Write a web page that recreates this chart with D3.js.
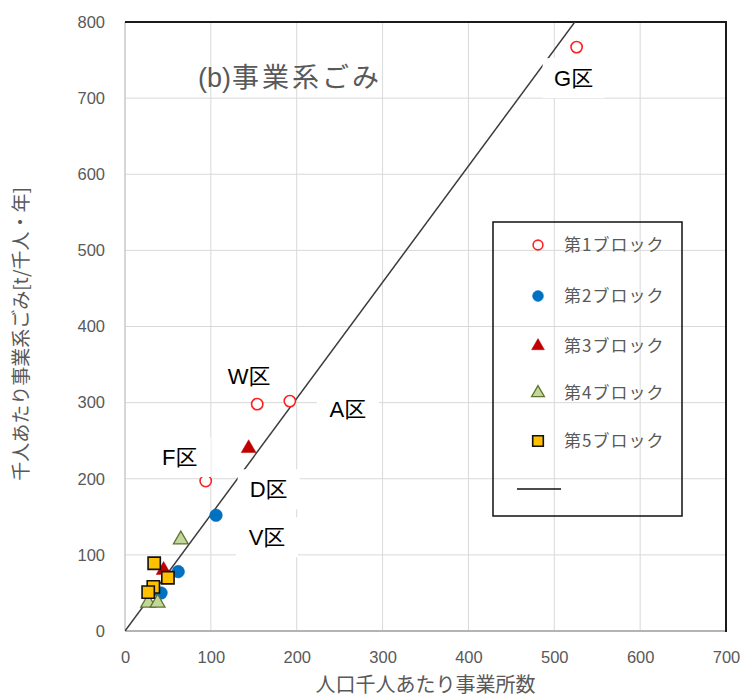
<!DOCTYPE html>
<html>
<head>
<meta charset="utf-8">
<script src="https://cdn.jsdelivr.net/npm/d3@7"></script>
<style>
  html, body { margin: 0; padding: 0; background: #fff; }
  svg { display: block; }
</style>
</head>
<body>
<svg id="chart" width="745" height="700"></svg>
<script>
// Businesses per 1,000 residents (x) vs. business waste per 1,000 residents (y)
const blocks = ["第1ブロック", "第2ブロック", "第3ブロック", "第4ブロック", "第5ブロック"];

const block1X = [94, 154, 192, 526];
const block1Y = [197, 298, 302, 767];
const block1Names = ["F区", "W区", "A区", "G区"];

const block2X = [106, 62, 42];
const block2Y = [152, 78, 50];
const block2Names = ["V区", "", ""];

const block3X = [144, 45];
const block3Y = [240, 80];
const block3Names = ["D区", ""];

const block4X = [65, 27, 38];
const block4Y = [120, 37, 37];

const block5X = [34, 50, 33, 27];
const block5Y = [89, 70, 58, 51];

const xTicks = [0, 100, 200, 300, 400, 500, 600, 700];
const yTicks = [0, 100, 200, 300, 400, 500, 600, 700, 800];

const chartTitle = "事業系ごみ";
const chartTag = "(b)";
const xTitle = "人口千人あたり事業所数";
const yTitle = "千人あたり事業系ごみ[t/千人・年]";

// ---- layout ----
const svg = d3.select("#chart");
const plot = { left: 125, right: 726, top: 22, bottom: 631 };
const x = d3.scaleLinear().domain([0, 700]).range([plot.left, plot.right]);
const y = d3.scaleLinear().domain([0, 800]).range([plot.bottom, plot.top]);

const gray = "#595959";
const latin = "'Liberation Sans', Arial, sans-serif";
const cjk = "'Noto Sans CJK JP', 'Noto Sans', sans-serif";

const series = [
  { name: blocks[0], xs: block1X, ys: block1Y, labels: block1Names,
    shape: d3.symbolCircle, size: 100, fill: "#fff", stroke: "#ff2020", sw: 1.6 },
  { name: blocks[1], xs: block2X, ys: block2Y, labels: block2Names,
    shape: d3.symbolCircle, size: 125, fill: "#0070c0", stroke: "#0070c0", sw: 0.5 },
  { name: blocks[2], xs: block3X, ys: block3Y, labels: block3Names,
    shape: d3.symbolTriangle, size: 95, fill: "#c00000", stroke: "#c00000", sw: 0.5 },
  { name: blocks[3], xs: block4X, ys: block4Y, labels: null,
    shape: d3.symbolTriangle, size: 95, fill: "#c4d79b", stroke: "#5f7530", sw: 1.3 },
  { name: blocks[4], xs: block5X, ys: block5Y, labels: null,
    shape: d3.symbolSquare, size: 150, fill: "#ffc000", stroke: "#111", sw: 1.6 }
];

// ---- gridlines ----
const grid = svg.append("g").attr("stroke", "#d9d9d9").attr("stroke-width", 1);
grid.selectAll("line.v").data(xTicks.slice(1)).join("line")
  .attr("x1", d => x(d)).attr("x2", d => x(d))
  .attr("y1", plot.top).attr("y2", plot.bottom);
grid.selectAll("line.h").data(yTicks.slice(1)).join("line")
  .attr("x1", plot.left).attr("x2", plot.right)
  .attr("y1", d => y(d)).attr("y2", d => y(d));

// ---- axes (tick labels only, drawn with d3 axes) ----
const xAxis = svg.append("g").attr("transform", `translate(0,${plot.bottom})`)
  .call(d3.axisBottom(x).tickValues(xTicks).tickSize(0).tickPadding(20));
const yAxis = svg.append("g").attr("transform", `translate(${plot.left},0)`)
  .call(d3.axisLeft(y).tickValues(yTicks).tickSize(0).tickPadding(20));
[xAxis, yAxis].forEach(g => {
  g.select(".domain").remove();
  g.selectAll("text").attr("fill", gray).style("font-family", latin).style("font-size", "16.5px");
});

// ---- frame: grey axis lines on left/bottom, dark edges top/right ----
svg.append("line").attr("x1", plot.left).attr("x2", plot.left)
  .attr("y1", plot.top).attr("y2", plot.bottom).attr("stroke", "#c8c8c8").attr("stroke-width", 1.5);
svg.append("line").attr("x1", plot.left).attr("x2", plot.right)
  .attr("y1", plot.bottom).attr("y2", plot.bottom).attr("stroke", "#b4b4b4").attr("stroke-width", 2);
svg.append("line").attr("x1", plot.left).attr("x2", plot.right + 1)
  .attr("y1", plot.top).attr("y2", plot.top).attr("stroke", "#1a1a1a").attr("stroke-width", 2);
svg.append("line").attr("x1", plot.right).attr("x2", plot.right)
  .attr("y1", plot.top).attr("y2", plot.bottom + 1).attr("stroke", "#1a1a1a").attr("stroke-width", 2);

// ---- least-squares trendline through the origin ----
const allX = series.flatMap(s => s.xs);
const allY = series.flatMap(s => s.ys);
const slope = d3.sum(allX, (v, i) => v * allY[i]) / d3.sum(allX, v => v * v);
const xEnd = d3.max(allX);
svg.append("clipPath").attr("id", "plotClip").append("rect")
  .attr("x", plot.left).attr("y", plot.top)
  .attr("width", plot.right - plot.left).attr("height", plot.bottom - plot.top);
svg.append("line")
  .attr("clip-path", "url(#plotClip)")
  .attr("x1", x(0)).attr("y1", y(0))
  .attr("x2", x(xEnd)).attr("y2", y(slope * xEnd))
  .attr("stroke", "#3a3a3a").attr("stroke-width", 1.5);

// ---- markers ----
series.forEach(s => {
  svg.append("g").selectAll("path").data(s.xs.map((v, i) => [v, s.ys[i]])).join("path")
    .attr("d", d3.symbol().type(s.shape).size(s.size))
    .attr("transform", d => `translate(${x(d[0])},${y(d[1])})`)
    .attr("fill", s.fill).attr("stroke", s.stroke).attr("stroke-width", s.sw);
});

// ---- ward labels on white boxes ----
const labelOffset = {
  "G区": [-3, 31], "W区": [-8, -28], "A区": [58, 8],
  "F区": [-26, -24], "D区": [20, 41], "V区": [51, 22]
};
const labelData = [];
series.forEach(s => {
  if (!s.labels) return;
  s.labels.forEach((n, i) => {
    if (n) labelData.push({ name: n, px: x(s.xs[i]) + labelOffset[n][0], py: y(s.ys[i]) + labelOffset[n][1] });
  });
});
const lbl = svg.append("g").selectAll("g").data(labelData).join("g")
  .attr("transform", d => `translate(${d.px},${d.py})`);
lbl.append("rect").attr("x", -31).attr("y", -20).attr("width", 62).attr("height", 40).attr("fill", "#fff");
lbl.append("text").attr("text-anchor", "middle").attr("dy", "0.36em")
  .style("font-size", "22px").attr("fill", "#000")
  .each(function (d) {
    const t = d3.select(this);
    t.append("tspan").style("font-family", latin).text(d.name.slice(0, 1));
    t.append("tspan").style("font-family", cjk).text(d.name.slice(1));
  });

// ---- legend ----
const leg = svg.append("g");
leg.append("rect").attr("x", 493).attr("y", 222).attr("width", 189).attr("height", 294)
  .attr("fill", "none").attr("stroke", "#111").attr("stroke-width", 1.5);
const legRowY = [245, 296, 346, 393, 441];
series.forEach((s, i) => {
  leg.append("path").attr("d", d3.symbol().type(s.shape).size(s.size * 0.75))
    .attr("transform", `translate(538,${legRowY[i]})`)
    .attr("fill", s.fill).attr("stroke", s.stroke).attr("stroke-width", s.sw);
  leg.append("text").attr("x", 564).attr("y", legRowY[i]).attr("dy", "0.36em")
    .style("font-family", cjk).style("font-size", "17px").style("letter-spacing", "1px")
    .attr("fill", gray).text(s.name);
});
leg.append("line").attr("x1", 517).attr("x2", 561).attr("y1", 489).attr("y2", 489)
  .attr("stroke", "#111").attr("stroke-width", 1.5);

// ---- titles ----
const title = svg.append("text").attr("x", 198).attr("y", 87).attr("fill", gray).style("font-size", "27px");
title.append("tspan").style("font-family", latin).text(chartTag);
title.append("tspan").attr("dx", 1).style("font-family", cjk).style("letter-spacing", "3px").text(chartTitle);

svg.append("text").attr("x", (plot.left + plot.right) / 2).attr("y", 692)
  .attr("text-anchor", "middle").attr("fill", gray)
  .style("font-family", cjk).style("font-size", "20px").text(xTitle);

svg.append("text").attr("transform", `translate(28,334) rotate(-90)`)
  .attr("text-anchor", "middle").attr("fill", gray)
  .style("font-family", cjk).style("font-size", "19px").text(yTitle);
</script>
</body>
</html>
